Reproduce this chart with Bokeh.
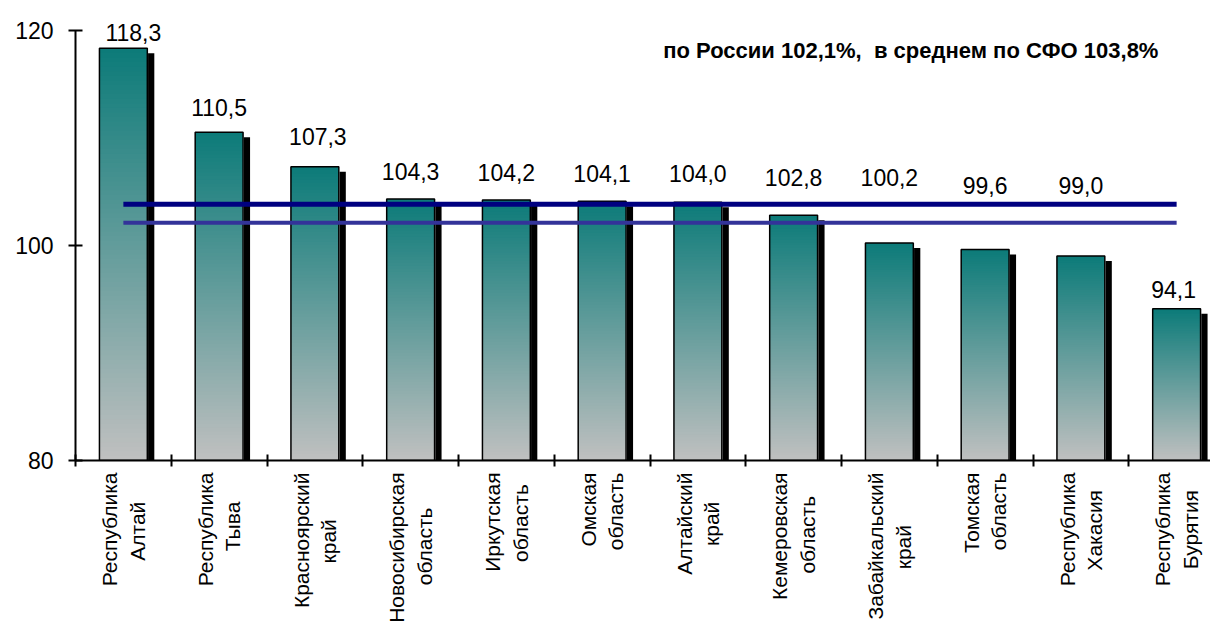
import numpy as np
from bokeh.plotting import figure
from bokeh.models import FixedTicker, Range1d, Label, ColumnDataSource
from bokeh.embed import file_html
from bokeh.resources import INLINE
from bokeh.core.properties import value

# ---- data ----
regions = ["Республика\nАлтай", "Республика\nТыва", "Красноярский\nкрай",
           "Новосибирская\nобласть", "Иркутская\nобласть", "Омская\nобласть",
           "Алтайский\nкрай", "Кемеровская\nобласть", "Забайкальский\nкрай",
           "Томская\nобласть", "Республика\nХакасия", "Республика\nБурятия"]
values = [118.3, 110.5, 107.3, 104.3, 104.2, 104.1, 104.0, 102.8, 100.2, 99.6, 99.0, 94.1]
russia_avg = 102.1
sfo_avg = 103.8
y_ticks = [80, 100, 120]

# ---- layout / style ----
FONT = "Liberation Sans"
PX_PER_UNIT = 10.75
CAT_PX = 95.75
FRAME_W = 1135
Y0, Y1 = 80, 120
Y_VIEW_TOP = 122                      # room above the axis top for the first label
FRAME_H = int(round((Y_VIEW_TOP - Y0) * PX_PER_UNIT))
x_end = FRAME_W / CAT_PX
px_x = 1.0 / CAT_PX
px_y = 1.0 / PX_PER_UNIT
BAR_HALF = 0.25
TOP_RGB = np.array([12, 123, 121])
BOT_RGB = np.array([192, 192, 192])
N_SLICES = 90
# manual placement of the value labels (pixels above bar top / to the right)
label_gap_px = [8, 17, 22, 19, 20, 20, 21, 30, 58, 56, 63, 11]
label_dx_px = [10, 0, 3, 0, 0, 0, 0, 0, 0, 0, 0, -3]

n = len(values)
centers = [i + 0.5 for i in range(n)]
bounds = [float(i) for i in range(n + 1)]

def fmt(v):
    return f"{v:.1f}".replace(".", ",")

# approximate Arial/Liberation Sans advance widths (1/1000 em) to centre the
# lines of the rotated two-line category labels
_W = dict(zip("АБВГДЕЖЗИЙКЛМНОПРСТУФХЦЧШЩЪЫЬЭЮЯ",
              [667, 656, 667, 542, 677, 667, 923, 604, 719, 719, 583, 656, 833, 722, 778, 719,
               667, 722, 611, 635, 760, 667, 740, 667, 917, 938, 792, 885, 656, 719, 1010, 722]))
_W.update(zip("абвгдежзийклмнопрстуфхцчшщъыьэюя",
              [556, 573, 531, 365, 583, 556, 669, 458, 559, 559, 438, 583, 688, 552, 556, 542,
               556, 500, 458, 500, 823, 500, 573, 521, 802, 823, 625, 719, 521, 510, 750, 542]))

def width(s):
    return sum(_W.get(ch, 556) for ch in s)

def centred(label):
    lines = label.split("\n")
    wmax = max(width(l) for l in lines)
    return "\n".join(l + "\u00a0" * int(round((wmax - width(l)) / 2 / 278)) for l in lines)

p = figure(frame_width=FRAME_W, frame_height=FRAME_H, output_backend="svg",
           toolbar_location=None, x_range=Range1d(0, x_end), y_range=Range1d(Y0, Y_VIEW_TOP),
           min_border_left=75, min_border_top=8, min_border_right=0, min_border_bottom=0)
p.outline_line_color = None
p.xgrid.grid_line_color = None
p.ygrid.grid_line_color = None
p.background_fill_color = "white"

# gradient slices (each overlaps the next one to avoid seams)
L, R, B, T, C = [], [], [], [], []
for c, v in zip(centers, values):
    edges = np.linspace(Y0, v, N_SLICES + 1)
    for k in range(N_SLICES):
        f = (k + 0.5) / N_SLICES
        rgb = BOT_RGB + (TOP_RGB - BOT_RGB) * f
        L.append(c - BAR_HALF); R.append(c + BAR_HALF)
        B.append(edges[k]); T.append(edges[min(k + 2, N_SLICES)])
        C.append("#%02x%02x%02x" % tuple(int(round(x)) for x in rgb))
p.quad(left=L, right=R, bottom=B, top=T, fill_color=C, line_color=None)

# bar outlines
p.quad(left=[c - BAR_HALF for c in centers], right=[c + BAR_HALF for c in centers],
       bottom=[Y0] * n, top=values, fill_color=None, line_color="black", line_width=1.5)

# shadows
p.quad(left=[c + BAR_HALF + 0.75 * px_x for c in centers],
       right=[c + BAR_HALF + 7 * px_x for c in centers],
       bottom=[Y0] * n, top=[v - 5 * px_y for v in values],
       fill_color="black", line_color=None)

# reference lines
p.line(x=[centers[0], centers[-1]], y=[sfo_avg, sfo_avg], line_color="#000080", line_width=5)
p.line(x=[centers[0], centers[-1]], y=[russia_avg, russia_avg], line_color="#333399", line_width=4)

# value labels
src = ColumnDataSource(dict(x=centers, y=values, t=[fmt(v) for v in values],
                            dy=[-(g + 8) for g in label_gap_px], dx=label_dx_px))
p.text(x="x", y="y", text="t", source=src, text_font=value(FONT), text_font_size="23px",
       text_align="center", text_baseline="alphabetic", x_offset="dx", y_offset="dy",
       text_color="black")

# title annotation
title_text = f"по России {fmt(russia_avg)}%,\u00a0 в среднем по СФО {fmt(sfo_avg)}%"
p.add_layout(Label(x=11.31, y=118.1, text=title_text, text_align="right",
                   text_baseline="middle", text_font=FONT, text_font_style="bold",
                   text_font_size="22px", text_color="black"))

# x axis
xa = p.xaxis[0]
xa.ticker = FixedTicker(ticks=centers, minor_ticks=bounds)
xa.major_label_overrides = {c: centred(r) for c, r in zip(centers, regions)}
xa.major_label_orientation = np.pi / 2
xa.major_label_text_font = FONT
xa.major_label_text_font_size = "21px"
xa.major_label_text_color = "black"
xa.major_label_standoff = 6
xa.major_tick_line_color = None
xa.major_tick_in = 0
xa.major_tick_out = 0
xa.minor_tick_in = 6
xa.minor_tick_out = 6
xa.minor_tick_line_width = 2
xa.minor_tick_line_color = "black"
xa.axis_line_width = 2
xa.axis_line_color = "black"

# y axis
ya = p.yaxis[0]
ya.bounds = (Y0, Y1)
ya.ticker = FixedTicker(ticks=y_ticks, minor_ticks=[])
ya.major_label_text_font = FONT
ya.major_label_text_font_size = "23px"
ya.major_label_text_color = "black"
ya.major_tick_in = 7
ya.major_tick_out = 7
ya.major_tick_line_width = 2
ya.major_label_standoff = 15
ya.axis_line_width = 2
ya.minor_tick_line_color = None

open("out.html", "w").write(file_html(p, INLINE))
